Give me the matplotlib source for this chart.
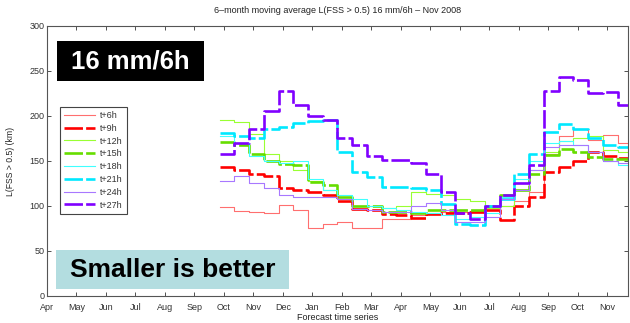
import matplotlib
matplotlib.use("Agg")
import matplotlib.pyplot as plt
import numpy as np
from matplotlib.patches import Rectangle

plt.rcParams['font.family'] = ['Liberation Sans', 'DejaVu Sans']

# months counted from Apr 2007; series sampled every half month from early Oct 2007
month_labels = ["Apr", "May", "Jun", "Jul", "Aug", "Sep", "Oct", "Nov", "Dec", "Jan",
                "Feb", "Mar", "Apr", "May", "Jun", "Jul", "Aug", "Sep", "Oct", "Nov"]
t_start = 5.85
t_step = 0.5
t_end = 19.7

t06 = [99, 94, 93, 92, 101, 96, 76, 80, 82, 75, 76, 86, 86, 90,
       92, 93, 93, 94, 96, 100, 105, 115, 158, 178, 185, 173, 179, 170]
t09 = [143, 140, 136, 133, 120, 118, 115, 112, 105, 97, 96, 91, 90, 87,
       91, 92, 92, 93, 95, 84, 100, 110, 138, 143, 150, 160, 155, 153]
t12 = [195, 193, 180, 158, 150, 140, 128, 118, 108, 100, 100, 98, 100, 115,
       113, 112, 108, 105, 98, 100, 125, 140, 160, 172, 176, 178, 162, 160]
t15 = [171, 168, 158, 150, 147, 145, 127, 123, 110, 100, 100, 93, 93, 92,
       95, 95, 95, 95, 100, 112, 118, 135, 157, 163, 160, 154, 152, 152]
t18 = [178, 170, 155, 150, 148, 150, 130, 118, 112, 108, 100, 98, 95, 93,
       92, 90, 85, 88, 92, 110, 130, 150, 170, 172, 168, 160, 150, 145]
t21 = [181, 178, 175, 186, 188, 192, 194, 195, 160, 138, 132, 121, 121, 120,
       118, 102, 80, 79, 100, 108, 135, 158, 182, 191, 186, 176, 168, 165]
t24 = [128, 133, 125, 120, 112, 110, 110, 110, 108, 97, 95, 93, 93, 100,
       103, 95, 82, 82, 88, 108, 118, 140, 165, 168, 168, 160, 150, 148]
t27 = [158, 170, 185, 205, 228, 212, 200, 196, 175, 168, 155, 151, 151, 148,
       135, 115, 92, 85, 100, 112, 125, 145, 228, 243, 240, 225, 227, 212]

dash = (0, (7, 1.2))
series = [
    ("t+6h", t06, "#ff6f6f", "-", 0.8),
    ("t+9h", t09, "#ff0000", dash, 1.9),
    ("t+12h", t12, "#99ff33", "-", 0.8),
    ("t+15h", t15, "#66dd00", dash, 1.9),
    ("t+18h", t18, "#40ffff", "-", 0.8),
    ("t+21h", t21, "#00e8ff", dash, 1.9),
    ("t+24h", t24, "#a878ff", "-", 0.8),
    ("t+27h", t27, "#8000ff", dash, 1.9),
]

fig = plt.figure(figsize=(6.3, 3.23), dpi=100)
ax = fig.add_axes([0.0746, 0.0836, 0.9222, 0.836])

for label, vals, color, ls, lw in series:
    x = t_start + t_step * np.arange(len(vals))
    x = np.append(x, t_end)
    y = np.append(vals, vals[-1])
    ax.step(x, y, where="post", color=color, linestyle=ls, linewidth=lw, label=label)

ax.set_xlim(0, t_end)
ax.set_ylim(0, 300)
ax.set_xticks(np.arange(len(month_labels)))
ax.set_xticklabels(month_labels)
ax.set_yticks(np.arange(0, 301, 50))
ax.tick_params(direction="in", length=3, width=0.6, labelsize=6.5, colors="#333333",
               top=True, right=True, pad=2)
ax.tick_params(axis="x", pad=5)
for sp in ax.spines.values():
    sp.set_color("#555555")
    sp.set_linewidth(0.8)

ax.set_title("6\u2013month moving average L(FSS > 0.5) 16 mm/6h \u2013 Nov 2008",
             fontsize=6.5, color="#222222", pad=9)
ax.set_ylabel("L(FSS > 0.5) (km)", fontsize=6.2, color="#222222", labelpad=10)
ax.set_xlabel("Forecast time series", fontsize=6.5, color="#222222", labelpad=1)

leg = ax.legend(loc="upper left", bbox_to_anchor=(0.022, 0.70), fontsize=6.5,
                handlelength=3.5, handletextpad=0.5, labelspacing=0.42,
                borderpad=0.45, fancybox=False, framealpha=1, borderaxespad=0)
leg.get_frame().set_edgecolor("#444444")
leg.get_frame().set_linewidth(0.8)
for txt in leg.get_texts():
    txt.set_color("#333333")

# highlight boxes
ax.add_patch(Rectangle((0.0172, 0.796), 0.253, 0.148, transform=ax.transAxes,
                       facecolor="black", edgecolor="none", zorder=5))
ax.text(0.143, 0.868, "16 mm/6h", transform=ax.transAxes, ha="center", va="center",
        fontsize=18.5, fontweight="bold", color="white", zorder=6)
ax.add_patch(Rectangle((0.0155, 0.026), 0.401, 0.144, transform=ax.transAxes,
                       facecolor="#b3dde0", edgecolor="none", zorder=5))
ax.text(0.217, 0.096, "Smaller is better", transform=ax.transAxes, ha="center",
        va="center", fontsize=19, fontweight="bold", color="black", zorder=6)

fig.savefig("out.png", dpi=100)
